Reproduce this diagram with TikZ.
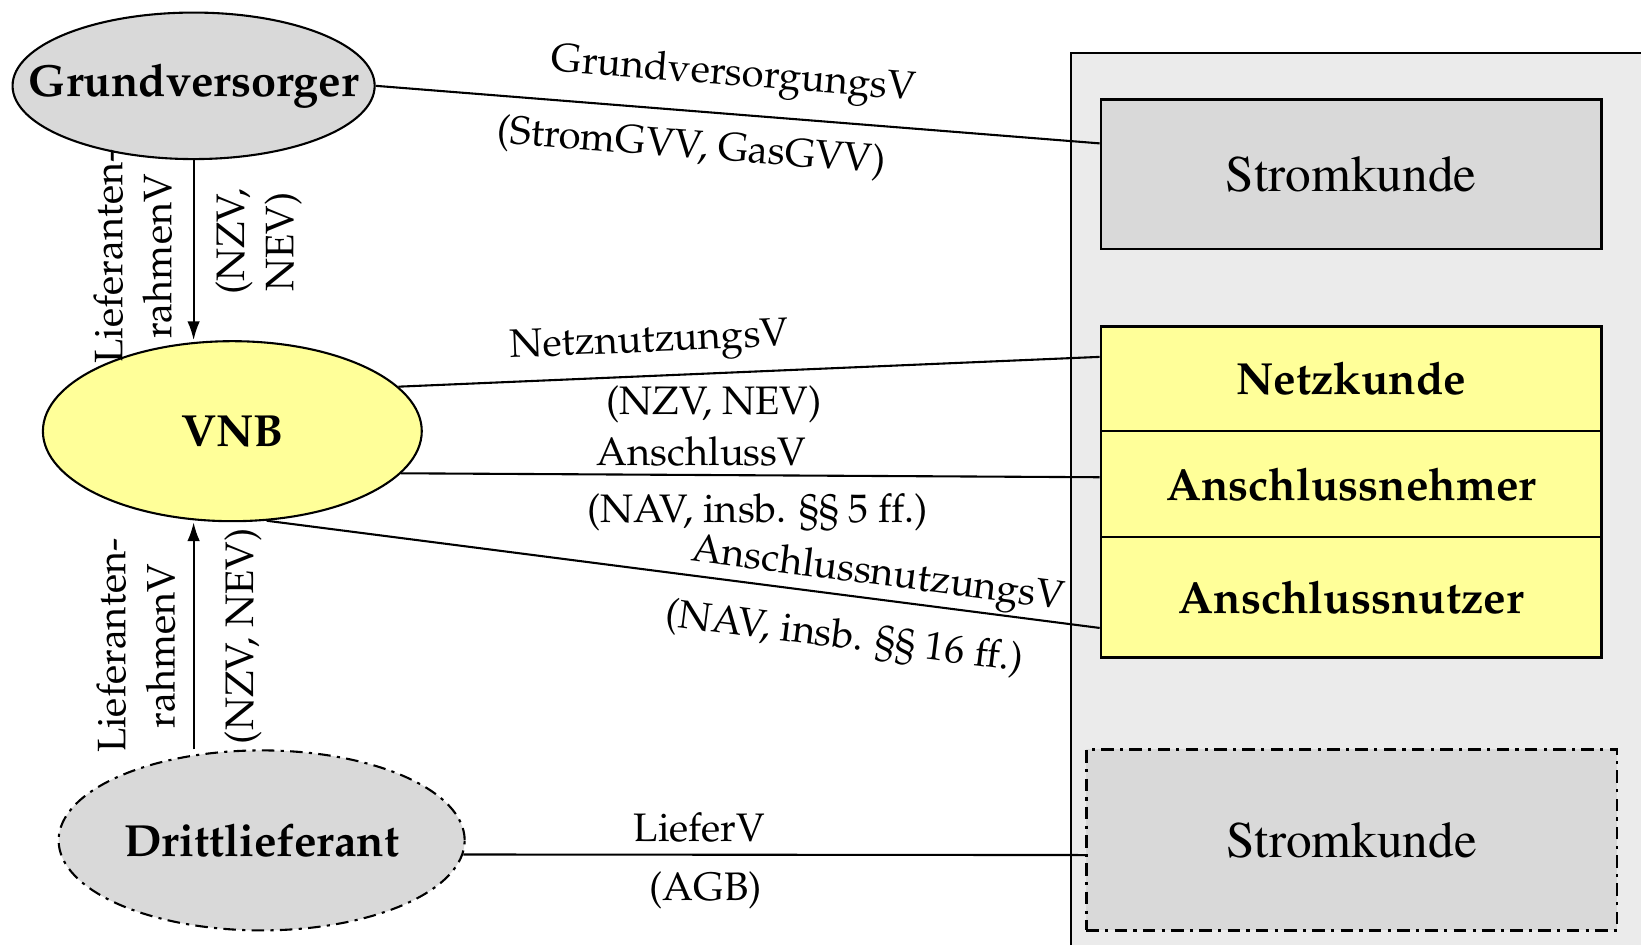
\documentclass[tikz,border=0pt]{standalone}
\usepackage[T1]{fontenc}
\renewcommand{\rmdefault}{ppl}
\usetikzlibrary{shapes.geometric,arrows.meta}
\definecolor{grayfill}{HTML}{D9D9D9}
\definecolor{panelfill}{HTML}{EBEBEB}
\definecolor{yellowfill}{HTML}{FFFF99}
\begin{document}
\begin{tikzpicture}[x=1pt,y=-1pt,line width=2pt,
  bigtxt/.style={font=\fontsize{43}{48}\selectfont\bfseries},
  lbl/.style={font=\fontsize{38}{47}\selectfont, inner sep=0pt},
  ell/.style={ellipse, draw, line width=2pt, inner sep=0pt, bigtxt},
  boxnode/.style={rectangle, draw, line width=2.5pt, inner sep=0pt, minimum width=478pt, bigtxt},
  stromtxt/.style={font=\fontsize{49}{54}\selectfont\fontfamily{ptm}\selectfont},
  dashdot/.style={dash pattern=on 12pt off 6pt on 3pt off 6pt},
  conn/.style={line width=2pt},
  arr/.style={line width=2pt, -{Latex[length=18pt,width=12pt]}}]
\useasboundingbox (0,0) rectangle (1568,903);
% panel
\fill[panelfill] (1023,51) rectangle (1568,903);
\draw[line width=2pt] (1023,903) -- (1023,51) -- (1568,51);
% ellipses
\node[ell, fill=grayfill, minimum width=346pt, minimum height=140pt] (gv) at (185,82) {\makebox[0pt]{Grundversorger}};
\node[ell, fill=yellowfill, minimum width=362pt, minimum height=172pt] (vnb) at (222,412) {\makebox[0pt]{VNB}};
\node[ell, fill=grayfill, dashdot, minimum width=388pt, minimum height=172pt] (dl) at (250,803) {\makebox[0pt]{Drittlieferant}};
% boxes
\node[boxnode, fill=grayfill, minimum height=143pt, stromtxt] (sk1) at (1291,166.5) {Stromkunde};
\node[boxnode, fill=yellowfill, minimum height=100pt] (netz) at (1291,362) {Netzkunde};
\node[boxnode, fill=yellowfill, minimum height=101pt] (nehm) at (1291,462.5) {Anschlussnehmer};
\node[boxnode, fill=yellowfill, minimum height=115pt] (nutz) at (1291,570.5) {Anschlussnutzer};
\node[boxnode, fill=grayfill, dashdot, minimum width=507pt, minimum height=173pt, stromtxt] (sk2) at (1291.5,802.5) {Stromkunde};
% vertical arrows
\draw[arr] (gv.south) -- (gv.south |- vnb.north);
\draw[arr] (gv.south |- dl.north) -- (gv.south |- vnb.south);
\node[lbl, rotate=90, align=center] (l1) at (127,245) {Lieferanten-\\rahmenV};
\node[lbl, rotate=90, align=center] (l2) at (247,231) {(NZV,\\NEV)};
\node[lbl, rotate=90, align=center] (l3) at (130,617) {Lieferanten-\\rahmenV};
\node[lbl, rotate=90] (l4) at (232,608) {(NZV, NEV)};
% connectors
\draw[conn] (gv.east) -- ([yshift=29.5pt]sk1.west)
  node[lbl, pos=0.49, sloped, yshift=36pt] {GrundversorgungsV}
  node[lbl, pos=0.44, sloped, yshift=-35pt] {(StromGVV, GasGVV)};
\draw[conn] (vnb.15) -- ([yshift=21pt]netz.west)
  node[lbl, pos=0.36, sloped, yshift=31pt] {NetznutzungsV}
  node[lbl, pos=0.45, yshift=-30pt] {(NZV, NEV)};
\draw[conn] (vnb.-14) -- ([yshift=6.5pt]nehm.west)
  node[lbl, pos=0.43, yshift=22pt] {AnschlussV}
  node[lbl, pos=0.51, yshift=-35pt] {(NAV, insb. \S\S\ 5 ff.)};
\draw[conn] (vnb.-69) -- ([yshift=-29.5pt]nutz.west)
  node[lbl, pos=0.73, sloped, yshift=22pt] {AnschlussnutzungsV}
  node[lbl, pos=0.70, sloped, yshift=-41pt] {(NAV, insb. \S\S\ 16 ff.)};
\draw[conn] (dl.-4) -- ([yshift=-14.5pt]sk2.west)
  node[lbl, pos=0.38, yshift=26pt] {LieferV}
  node[lbl, pos=0.39, yshift=-34pt] {(AGB)};
\end{tikzpicture}
\end{document}
